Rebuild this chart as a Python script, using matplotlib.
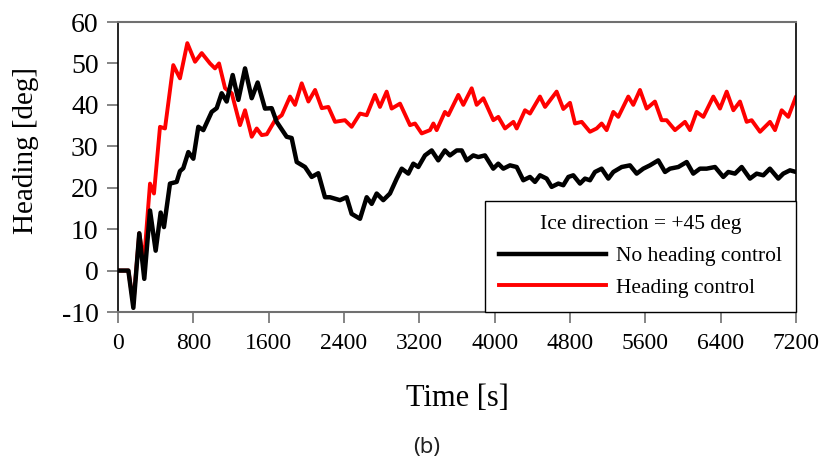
import matplotlib
matplotlib.use("Agg")
import matplotlib.pyplot as plt
from matplotlib.lines import Line2D

plt.rcParams["font.family"] = ["Liberation Serif", "DejaVu Serif"]
plt.rcParams["axes.unicode_minus"] = False

# Heading response without heading control (time [s], heading [deg])
t_free = [0, 110, 163, 226, 279, 340, 400, 453, 488, 552, 623, 658, 693, 747, 800,
          853, 906, 995, 1048, 1101, 1154, 1218, 1278, 1349, 1420, 1483, 1561, 1632,
          1685, 1791, 1844, 1898, 1986, 2057, 2127, 2198, 2251, 2357, 2428, 2481, 2570,
          2641, 2694, 2747, 2817, 2888, 2960, 3013, 3083, 3136, 3189, 3260, 3331, 3401,
          3472, 3525, 3597, 3650, 3703, 3773, 3826, 3897, 3985, 4038, 4092, 4163, 4234,
          4304, 4375, 4428, 4481, 4552, 4605, 4676, 4729, 4783, 4835, 4906, 4959, 5012,
          5065, 5136, 5207, 5260, 5349, 5437, 5508, 5578, 5649, 5737, 5809, 5862, 5950,
          6039, 6109, 6180, 6251, 6340, 6428, 6481, 6552, 6623, 6711, 6782, 6853, 6923,
          7012, 7065, 7136, 7200]
h_free = [0, 0, -9, 9, -2, 14.5, 4.8, 14, 10.5, 21, 21.4, 24, 24.7, 28.6, 27,
          34.7, 33.9, 38.3, 39.2, 42.8, 40.8, 47.2, 41.2, 48.8, 41.6, 45.4, 39.1, 39.2,
          35.9, 32.3, 32, 26.2, 25, 22.6, 23.5, 17.7, 17.7, 17, 17.7, 13.7, 12.5,
          17.7, 16.1, 18.6, 17, 18.6, 22.2, 24.6, 23.4, 25.8, 25, 27.8, 29, 26.6,
          29, 27.8, 29, 29, 26.6, 27.8, 27.4, 27.8, 24.6, 25.8, 24.6, 25.4, 25,
          21.8, 22.6, 21.4, 23, 22.2, 20.2, 21, 20.6, 22.6, 23, 21, 22.2, 21.8,
          23.8, 24.6, 22.2, 23.8, 25, 25.4, 23.4, 24.6, 25.4, 26.6, 23.8, 24.6, 25,
          26.2, 23.4, 24.6, 24.6, 25, 22.6, 23.8, 23.4, 25, 22.2, 23.4, 23, 24.6,
          22.2, 23.4, 24.2, 23.8]

# Heading response with heading control
t_ctrl = [0, 110, 163, 226, 275, 340, 382, 446, 499, 587, 658, 736, 818, 889, 977,
          1030, 1073, 1137, 1208, 1296, 1349, 1420, 1473, 1526, 1580, 1668, 1739, 1827,
          1880, 1951, 2022, 2093, 2164, 2234, 2305, 2410, 2481, 2570, 2641, 2729, 2782,
          2853, 2906, 2995, 3101, 3154, 3225, 3313, 3349, 3384, 3472, 3508, 3614, 3667,
          3756, 3809, 3880, 3986, 4039, 4110, 4199, 4234, 4322, 4375, 4481, 4535, 4658,
          4729, 4800, 4853, 4924, 5012, 5083, 5136, 5189, 5260, 5313, 5419, 5472, 5543,
          5614, 5702, 5773, 5826, 5915, 6021, 6074, 6145, 6216, 6322, 6393, 6464, 6535,
          6605, 6676, 6729, 6818, 6924, 6977, 7048, 7118, 7200]
h_ctrl = [0, 0, -8, 9, 2, 21, 18.6, 34.7, 34.3, 49.6, 46.4, 54.9, 50.4, 52.5, 50,
          48.8, 50, 44, 42.8, 35.1, 38.7, 32.3, 34.3, 32.7, 32.9, 36.3, 37.5, 42,
          40, 45.2, 40.8, 43.6, 39.2, 39.5, 35.9, 36.3, 34.7, 37.9, 37.5, 42.4, 39.5,
          43.2, 39.1, 40.3, 35.1, 35.5, 33.1, 33.9, 35.5, 33.9, 38.3, 37.5, 42.4, 40,
          44, 40, 41.6, 36.3, 37.1, 34.3, 35.9, 34.3, 38.7, 37.9, 42, 39.5, 43.2,
          39, 40.5, 35.5, 35.9, 33.5, 34.3, 35.5, 33.9, 38.3, 37.1, 42, 40, 43.6,
          39.1, 40.8, 36.3, 36.3, 33.9, 35.9, 33.9, 38.3, 37.1, 42, 39.1, 43.2, 38.7,
          40.8, 35.9, 36.3, 33.5, 35.9, 33.9, 38.7, 37.1, 42]

x_ticks = list(range(0, 7201, 800))
y_ticks = list(range(-10, 61, 10))

legend_title = "Ice direction = +45 deg"
label_free = "No heading control"
label_ctrl = "Heading control"

fig = plt.figure(figsize=(8.26, 4.65), dpi=100)
ax = fig.add_axes([118 / 826, 1 - 312 / 465, 678 / 826, 290 / 465])

ax.plot(t_ctrl, h_ctrl, color="#ff0000", lw=2.8, solid_joinstyle="round",
        solid_capstyle="round", zorder=2)
ax.plot(t_free, h_free, color="black", lw=3.2, solid_joinstyle="round",
        solid_capstyle="round", zorder=3)

ax.set_xlim(0, 7200)
ax.set_ylim(-10, 60)
ax.set_xticks(x_ticks)
ax.set_yticks(y_ticks)
ax.tick_params(axis="x", direction="out", length=8, width=1.2, color="#707070",
               labelsize=17, pad=7)
ax.tick_params(axis="y", direction="out", length=8, width=1.2, color="#707070",
               labelsize=20, pad=6)

for side in ("left", "right"):
    ax.spines[side].set_color("black")
    ax.spines[side].set_linewidth(1.2)
for side in ("top", "bottom"):
    ax.spines[side].set_color("#707070")
    ax.spines[side].set_linewidth(1.5)

ax.set_xlabel("Time [s]", fontsize=22, va="center")
ax.xaxis.set_label_coords(0.5, -0.297)
ax.set_ylabel("Heading [deg]", fontsize=21, va="center")
ax.yaxis.set_label_coords(-0.135, 0.557)

handles = [Line2D([], [], color="black", lw=3.2),
           Line2D([], [], color="#ff0000", lw=2.8)]
leg = ax.legend(handles, [label_free, label_ctrl], title=legend_title,
                loc="lower right", bbox_to_anchor=(1, 0), borderaxespad=0,
                fontsize=15.5, title_fontsize=15.5, handlelength=5.0,
                handletextpad=0.45, labelspacing=0.55, borderpad=0.65,
                fancybox=False, framealpha=1, edgecolor="black")
leg.get_frame().set_linewidth(1.0)
leg.set_zorder(5)

fig.text(427 / 826, 1 - 447 / 465, "(b)", family=["Noto Sans", "DejaVu Sans"],
         fontsize=16, color="#222222", ha="center", va="center")

fig.savefig("out.png", dpi=100)
